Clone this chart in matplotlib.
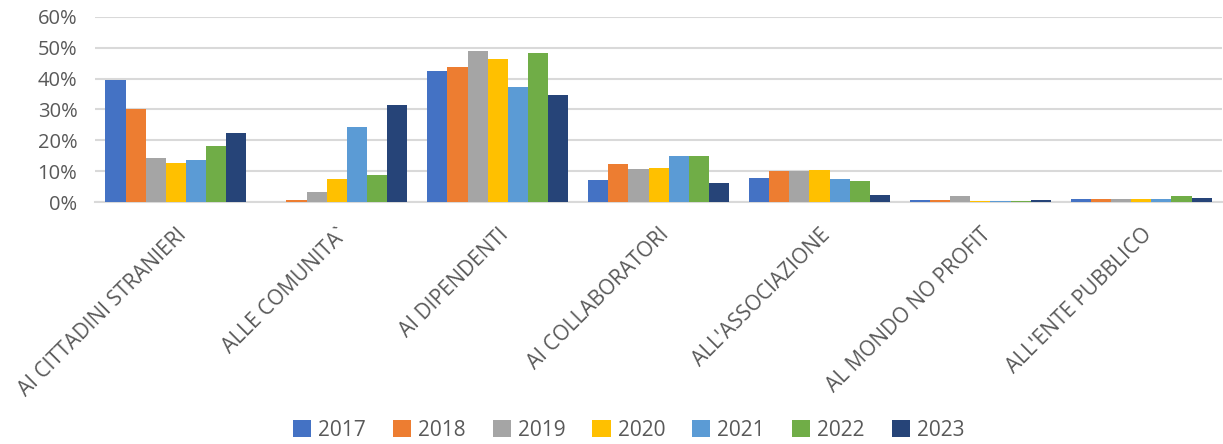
import matplotlib.pyplot as plt
import numpy as np
from matplotlib.ticker import PercentFormatter

plt.rcParams['font.family'] = ['Open Sans', 'DejaVu Sans']

categories = ["AI CITTADINI STRANIERI", "ALLE COMUNITA`", "AI DIPENDENTI",
              "AI COLLABORATORI", "ALL'ASSOCIAZIONE", "AL MONDO NO PROFIT",
              "ALL'ENTE PUBBLICO"]
years = ["2017", "2018", "2019", "2020", "2021", "2022", "2023"]

# percentage per category, one list per year
y2017 = [39.5, 0.0, 42.5, 7.0, 7.9, 0.6, 1.1]
y2018 = [30.1, 0.8, 43.6, 12.2, 10.1, 0.6, 0.9]
y2019 = [14.2, 3.2, 49.0, 10.7, 10.1, 2.1, 1.0]
y2020 = [12.5, 7.6, 46.3, 11.1, 10.5, 0.2, 1.0]
y2021 = [13.5, 24.2, 37.3, 14.9, 7.5, 0.2, 1.0]
y2022 = [18.2, 8.9, 48.4, 14.9, 6.7, 0.2, 1.8]
y2023 = [22.5, 31.6, 34.6, 6.2, 2.4, 0.5, 1.2]
series = [y2017, y2018, y2019, y2020, y2021, y2022, y2023]

colors = ["#4472C4", "#ED7D31", "#A5A5A5", "#FFC000", "#5B9BD5", "#70AD47", "#264478"]
text_color = "#595959"

fig = plt.figure(figsize=(12.23, 4.44), dpi=100)
ax = fig.add_axes([0.078, 0.545, 0.921, 0.417])

x = np.arange(len(categories))
w = 0.125
for i, (vals, col, yr) in enumerate(zip(series, colors, years)):
    ax.bar(x + (i - 3) * w, vals, width=w, color=col, label=yr, zorder=3)

ax.set_xlim(-0.5, len(categories) - 0.5)
ax.set_ylim(0, 60)
ax.set_yticks(range(0, 61, 10))
ax.yaxis.set_major_formatter(PercentFormatter(decimals=0))
ax.grid(axis='y', color="#d9d9d9", linewidth=1.5, zorder=0)
for s in ['top', 'right', 'left']:
    ax.spines[s].set_visible(False)
ax.spines['bottom'].set_color("#d9d9d9")
ax.spines['bottom'].set_linewidth(1.5)
ax.tick_params(axis='both', length=0, colors=text_color)
ax.tick_params(axis='y', pad=13, labelsize=14.5)

ax.set_xticks(x)
ax.set_xticklabels(categories, rotation=45, ha='right', rotation_mode='anchor',
                   fontsize=15, color=text_color)
ax.tick_params(axis='x', pad=16)

fig.legend(loc='lower center', ncol=7, frameon=False, fontsize=15,
           bbox_to_anchor=(0.514, -0.035), handlelength=0.87, handleheight=0.87,
           handletextpad=0.34, columnspacing=1.3, labelcolor=text_color)

fig.savefig("out.png", dpi=100)
